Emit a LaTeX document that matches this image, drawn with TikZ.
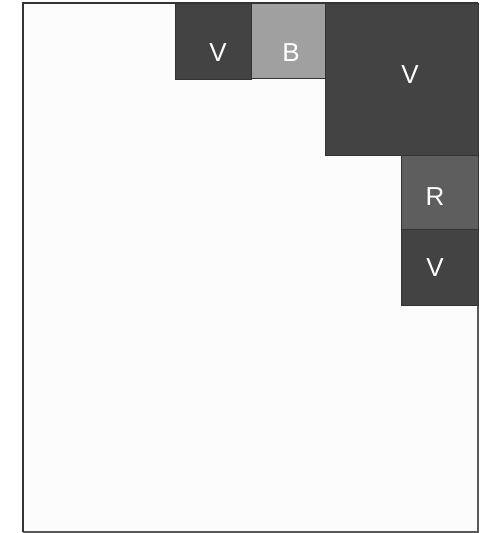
\documentclass[tikz,border=0pt]{standalone}
\usepackage{fontspec}
\setmainfont{Liberation Sans}
\definecolor{darkbox}{HTML}{434343}
\definecolor{lightbox}{HTML}{A0A0A0}
\definecolor{midbox}{HTML}{5E5E5E}
\definecolor{edgecol}{HTML}{333333}
\begin{document}
\begin{tikzpicture}[x=1pt,y=-1pt,
  cell/.style={draw=edgecol,line width=1pt,inner sep=0pt,anchor=north west},
  lbl/.style={text=white,font=\fontsize{26}{26}\selectfont,inner sep=0pt,anchor=center}]
\useasboundingbox (0,0) rectangle (488,533);
% container
\fill[white!99!black] (23,3) rectangle (478,532);
\draw[line width=1.2pt,gray!70!black] (478,3) -- (478,532) -- (23,532);
\draw[line width=2pt,edgecol] (23,532) -- (23,3) -- (478,3);
% cells
\node[cell,fill=darkbox,minimum width=76pt,minimum height=76pt] (v1) at (175,3) {};
\node[cell,fill=lightbox,minimum width=74pt,minimum height=75pt] (b) at (251,3) {};
\node[cell,fill=darkbox,minimum width=153pt,minimum height=152pt] (v2) at (325,3) {};
\node[cell,fill=midbox,minimum width=77pt,minimum height=74pt] (r) at (401,155) {};
\node[cell,fill=darkbox,minimum width=77pt,minimum height=76pt] (v3) at (401,229) {};
% labels
\node[lbl] (v1l) at (218,52.5) {V};
\node[lbl] (bl) at (291,52.5) {B};
\node[lbl] (v2l) at (410,75) {V};
\node[lbl] (rl) at (435,196.5) {R};
\node[lbl] (v3l) at (435,268) {V};
\end{tikzpicture}
\end{document}
